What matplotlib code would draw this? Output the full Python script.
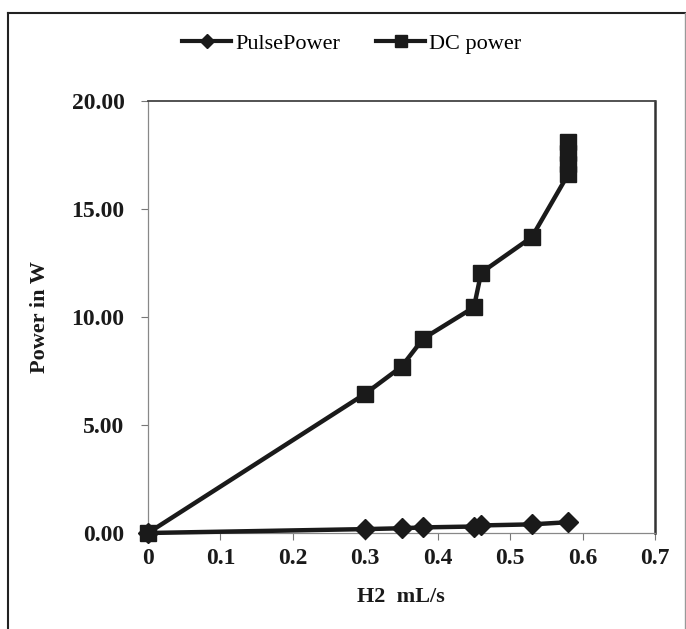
import matplotlib.pyplot as plt
from matplotlib.lines import Line2D

# data
h2_flow = [0, 0.30, 0.35, 0.38, 0.45, 0.46, 0.53, 0.58]
pulse_power = [0, 0.18, 0.22, 0.26, 0.30, 0.35, 0.40, 0.50]

dc_flow = [0, 0.30, 0.35, 0.38, 0.45, 0.46, 0.53, 0.58, 0.58, 0.58, 0.58]
dc_power = [0, 6.45, 7.70, 9.00, 10.45, 12.05, 13.70, 16.60, 17.10, 17.60, 18.10]

x_ticks = [0, 0.1, 0.2, 0.3, 0.4, 0.5, 0.6, 0.7]
x_labels = ['0', '0.1', '0.2', '0.3', '0.4', '0.5', '0.6', '0.7']
y_ticks = [0, 5, 10, 15, 20]
y_labels = ['0.00', '5.00', '10.00', '15.00', '20.00']

plt.rcParams['font.family'] = ['Liberation Serif', 'DejaVu Serif']

W, H = 686, 629
fig = plt.figure(figsize=(W / 100, H / 100), dpi=100)
ax = fig.add_axes([148 / W, 1 - 533 / H, 507 / W, 432 / H])

ink = '#1a1a1a'

ax.plot(h2_flow, pulse_power, color=ink, lw=3.2, marker='D', ms=10,
        mfc=ink, mec=ink, label='Pulse Power', zorder=3, clip_on=False)
ax.plot(dc_flow, dc_power, color=ink, lw=3.2, marker='s', ms=12,
        mfc=ink, mec=ink, label='DC power', zorder=4, clip_on=False)

ax.set_xlim(0, 0.7)
ax.set_ylim(0, 20)
ax.set_xticks(x_ticks)
ax.set_xticklabels(x_labels)
ax.set_yticks(y_ticks)
ax.set_yticklabels(y_labels)
ax.tick_params(axis='both', direction='out', length=5, width=0.8,
               colors='#777777', labelcolor=ink, labelsize=17)
ax.tick_params(axis='y', pad=12)
ax.tick_params(axis='x', pad=6)
for lab in ax.get_xticklabels() + ax.get_yticklabels():
    lab.set_fontweight('bold')

ax.spines['left'].set_color('#888888')
ax.spines['left'].set_linewidth(0.9)
ax.spines['bottom'].set_color('#888888')
ax.spines['bottom'].set_linewidth(0.9)
ax.spines['top'].set_color('#444444')
ax.spines['top'].set_linewidth(1.3)
ax.spines['right'].set_color('#333333')
ax.spines['right'].set_linewidth(1.8)

ax.set_xlabel('H2  mL/s', fontsize=16, fontweight='bold', color=ink, va='center')
ax.set_ylabel('Power in W', fontsize=16, fontweight='bold', color=ink, va='center')
ax.xaxis.set_label_coords((401 - 148) / 507, (533 - 597) / 432)
ax.yaxis.set_label_coords((40 - 148) / 507, 0.5)

handles = [
    Line2D([], [], color=ink, lw=3, marker='D', ms=7, mfc=ink, mec=ink),
    Line2D([], [], color=ink, lw=3, marker='s', ms=9, mfc=ink, mec=ink),
]
fig.legend(handles, ['PulsePower', 'DC power'], loc='center',
           bbox_to_anchor=(352 / W, 1 - 44 / H), ncol=2, frameon=False,
           fontsize=16, handlelength=2.2, handletextpad=0.2, columnspacing=1.6)

# outer frame of the picture
fig.add_artist(Line2D([7.5 / W, 7.5 / W], [0, 1 - 12.5 / H],
                      transform=fig.transFigure, color='#222222', lw=1.5))
fig.add_artist(Line2D([7.5 / W, 685 / W], [1 - 12.5 / H, 1 - 12.5 / H],
                      transform=fig.transFigure, color='#222222', lw=1.5))
fig.add_artist(Line2D([684.5 / W, 684.5 / W], [0, 1 - 12.5 / H],
                      transform=fig.transFigure, color='#999999', lw=1.0))

fig.savefig('out.png', dpi=100)
